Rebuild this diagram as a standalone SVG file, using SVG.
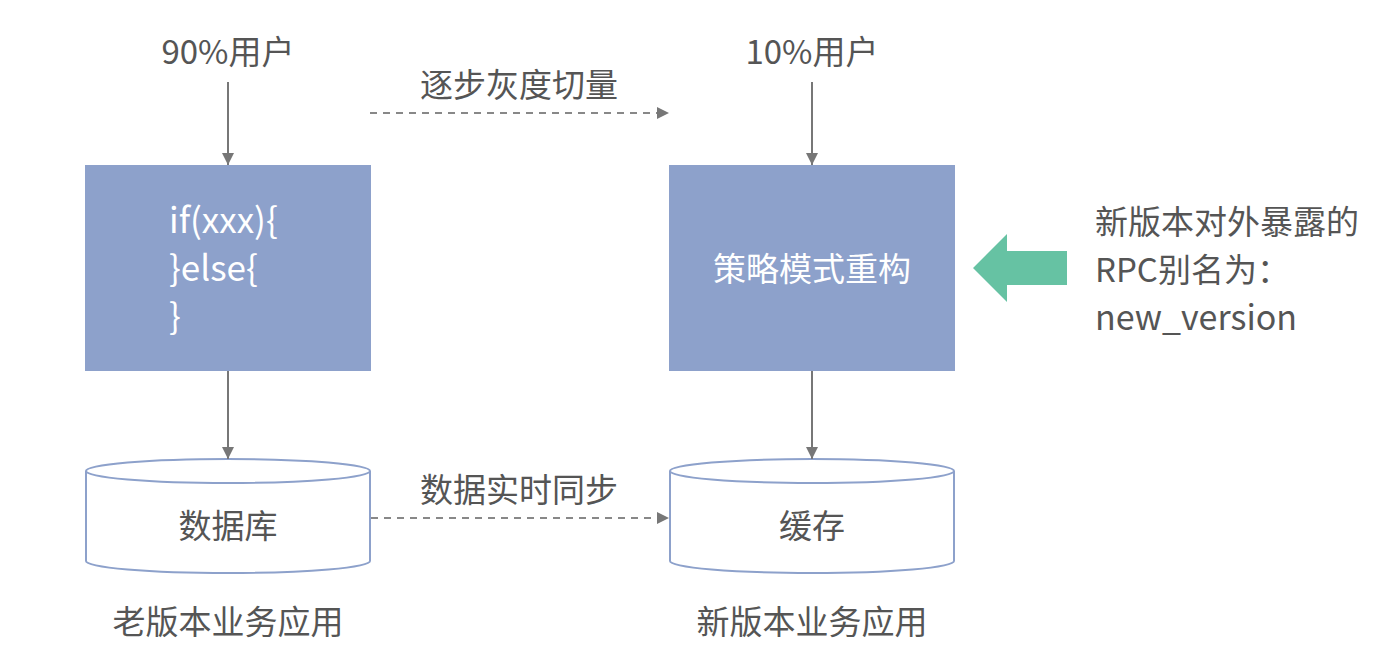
<svg xmlns="http://www.w3.org/2000/svg" width="1395" height="652" viewBox="0 0 1395 652">
<defs>
<marker id="ah" viewBox="0 0 10 10" refX="10" refY="5" markerWidth="12" markerHeight="12" markerUnits="userSpaceOnUse" orient="auto"><path d="M0,0 L10,5 L0,10 z" fill="#777"/></marker>
<style>
.t{font-family:"Noto Sans CJK SC","Noto Sans",sans-serif;font-size:33px;fill:#555}
.w{font-family:"Noto Sans CJK SC","Noto Sans",sans-serif;font-size:33px;fill:#fff}
.c{font-size:35px}
.n{font-size:34px}
.box{fill:#8da1cb}
.cyl{fill:#fff;stroke:#8da1cb;stroke-width:2}
.ln{stroke:#777;stroke-width:2;fill:none}
.dl{stroke:#888;stroke-width:2;fill:none;stroke-dasharray:7,6}
</style>
</defs>
<rect width="1395" height="652" fill="#fff"/>
<g id="labels">
<text class="t" x="228" y="64" text-anchor="middle">90%用户</text>
<text class="t" x="812" y="64" text-anchor="middle">10%用户</text>
<text class="t" x="519" y="97" text-anchor="middle">逐步灰度切量</text>
<text class="t" x="519" y="502" text-anchor="middle">数据实时同步</text>
<text class="t" x="228" y="634" text-anchor="middle">老版本业务应用</text>
<text class="t" x="812" y="634" text-anchor="middle">新版本业务应用</text>
</g>
<g id="old-code">
<rect class="box" x="85" y="165" width="286" height="206"/>
<text class="w c" x="169" y="233">if(xxx){</text>
<text class="w c" x="169" y="281">}else{</text>
<text class="w c" x="169" y="329">}</text>
</g>
<g id="new-code">
<rect class="box" x="669" y="165" width="286" height="206"/>
<text class="w" x="812" y="281" text-anchor="middle">策略模式重构</text>
</g>
<g id="db">
<path class="cyl" d="M86,471 L86,561 A142,12 0 0 0 370,561 L370,471"/>
<ellipse class="cyl" cx="228" cy="471" rx="142" ry="12"/>
<text class="t" x="228" y="538" text-anchor="middle">数据库</text>
</g>
<g id="cache">
<path class="cyl" d="M670,471 L670,561 A142,12 0 0 0 954,561 L954,471"/>
<ellipse class="cyl" cx="812" cy="471" rx="142" ry="12"/>
<text class="t" x="812" y="538" text-anchor="middle">缓存</text>
</g>
<g id="rpc-note">
<path d="M973,268 L1007,234 L1007,251 L1067,251 L1067,285 L1007,285 L1007,302 z" fill="#66c2a3"/>
<text class="t" x="1095" y="234">新版本对外暴露的</text>
<text class="t" x="1095" y="282">RPC别名为：</text>
<text class="t n" x="1095" y="330">new_version</text>
</g>
<g id="connectors">
<line class="ln" x1="228" y1="82" x2="228" y2="165" marker-end="url(#ah)"/>
<line class="ln" x1="812" y1="82" x2="812" y2="165" marker-end="url(#ah)"/>
<line class="ln" x1="228" y1="371" x2="228" y2="459" marker-end="url(#ah)"/>
<line class="ln" x1="812" y1="371" x2="812" y2="459" marker-end="url(#ah)"/>
<line class="dl" x1="370" y1="113" x2="669" y2="113" marker-end="url(#ah)"/>
<line class="dl" x1="371" y1="518" x2="669" y2="518" marker-end="url(#ah)"/>
</g>
</svg>
